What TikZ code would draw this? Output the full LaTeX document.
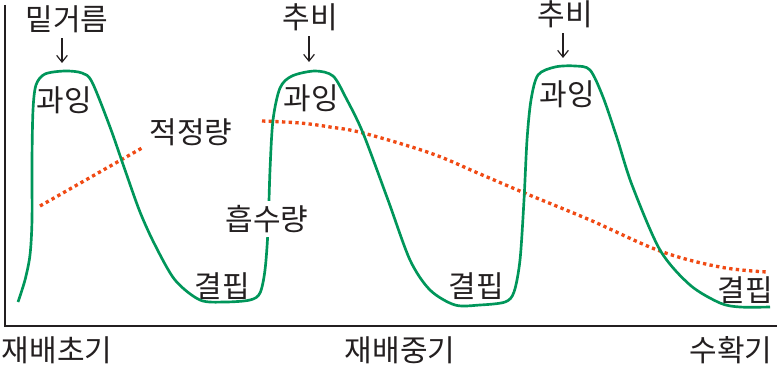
\documentclass[tikz,border=0pt]{standalone}
\usepackage{fontspec}
\setmainfont{Noto Sans CJK KR}
\usetikzlibrary{positioning, arrows.meta}

\definecolor{inkgray}{HTML}{231F20}
\definecolor{uptakegreen}{HTML}{00965A}
\definecolor{rateorange}{HTML}{F04A14}

\tikzset{
  txt/.style={inner sep=0pt, text=inkgray},
  axis/.style={draw=inkgray, line width=1.6pt},
  uptake/.style={draw=uptakegreen, line width=2pt, line join=round},
  rate/.style={draw=rateorange, line width=2.5pt, dash pattern=on 2.5pt off 2.5pt},
  arr/.style={draw=inkgray, line width=0.9pt, -{Straight Barb[length=5pt, width=8pt]}}
}

\begin{document}
\begin{tikzpicture}[x=0.75pt, y=-0.75pt, font=\fontsize{22.5}{27}\selectfont]
  \useasboundingbox (0,0) rectangle (780,367);

  % axes
  \draw[axis] (5,5) -- (5,326) -- (777,326);

  % adequate amount (dotted)
  \draw[rate] (40,206) -- (142,148);
  \draw[rate] plot[smooth, tension=0.6] coordinates {
    (262,121) (300,123) (330,127) (363,133) (430,153) (480,174)
    (527,194) (590,220) (660,251) (720,267) (767,272)};

  % uptake curve
  \draw[uptake] plot[smooth, tension=0.5] coordinates {
    (18,302) (25,280) (30,255) (32,220) (32,160) (33,110) (36,85)
    (45,74) (65,71) (82,73) (92,82) (110,127) (125,170) (140,212)
    (155,245) (175,280) (200,300) (225,302) (250,300) (260,293)
    (265,270) (268,230) (270,170) (273,120) (280,88) (292,76)
    (315,71) (333,76) (346,98) (363,133) (388,200)
    (410,260) (430,290) (455,305) (480,305) (505,302) (514,292)
    (520,260) (524,200) (527,140) (531,100) (538,75) (555,67)
    (575,66) (590,70) (603,97) (617,138) (632,185) (660,250)
    (690,285) (720,303) (740,307) (770,307)};

  % fertilising times
  \foreach \n/\word/\x/\y/\ax/\ay in {
    1/밑거름/67/19/62/63,
    2/추비/310/17/309/62,
    3/추비/565/14/563/58
  }{
    \node[txt] (dose\n) at (\x,\y) {\word};
    \coordinate (tip\n) at (\ax,\ay);
    \draw[arr] ([yshift=-4pt]dose\n.south -| tip\n) -- (tip\n);
  }

  % excess and shortage
  \foreach \n/\x/\y in {1/64/100, 2/311/98, 3/567/94}
    \node[txt] (excess\n) at (\x,\y) {과잉};
  \foreach \n/\x/\y in {1/222/286, 2/476/286, 3/745/290}
    \node[txt] (short\n) at (\x,\y) {결핍};

  \node[txt] (adequate) at (191,132) {적정량};
  \node[txt, fill=white, inner sep=3pt] (absorb) at (267,219) {흡수량};

  % growth stages
  \node[txt] (early) at (57,350) {재배초기};
  \node[txt] (middle) at (400,350) {재배중기};
  \node[txt] (harvest) at (731,350) {수확기};
\end{tikzpicture}
\end{document}
